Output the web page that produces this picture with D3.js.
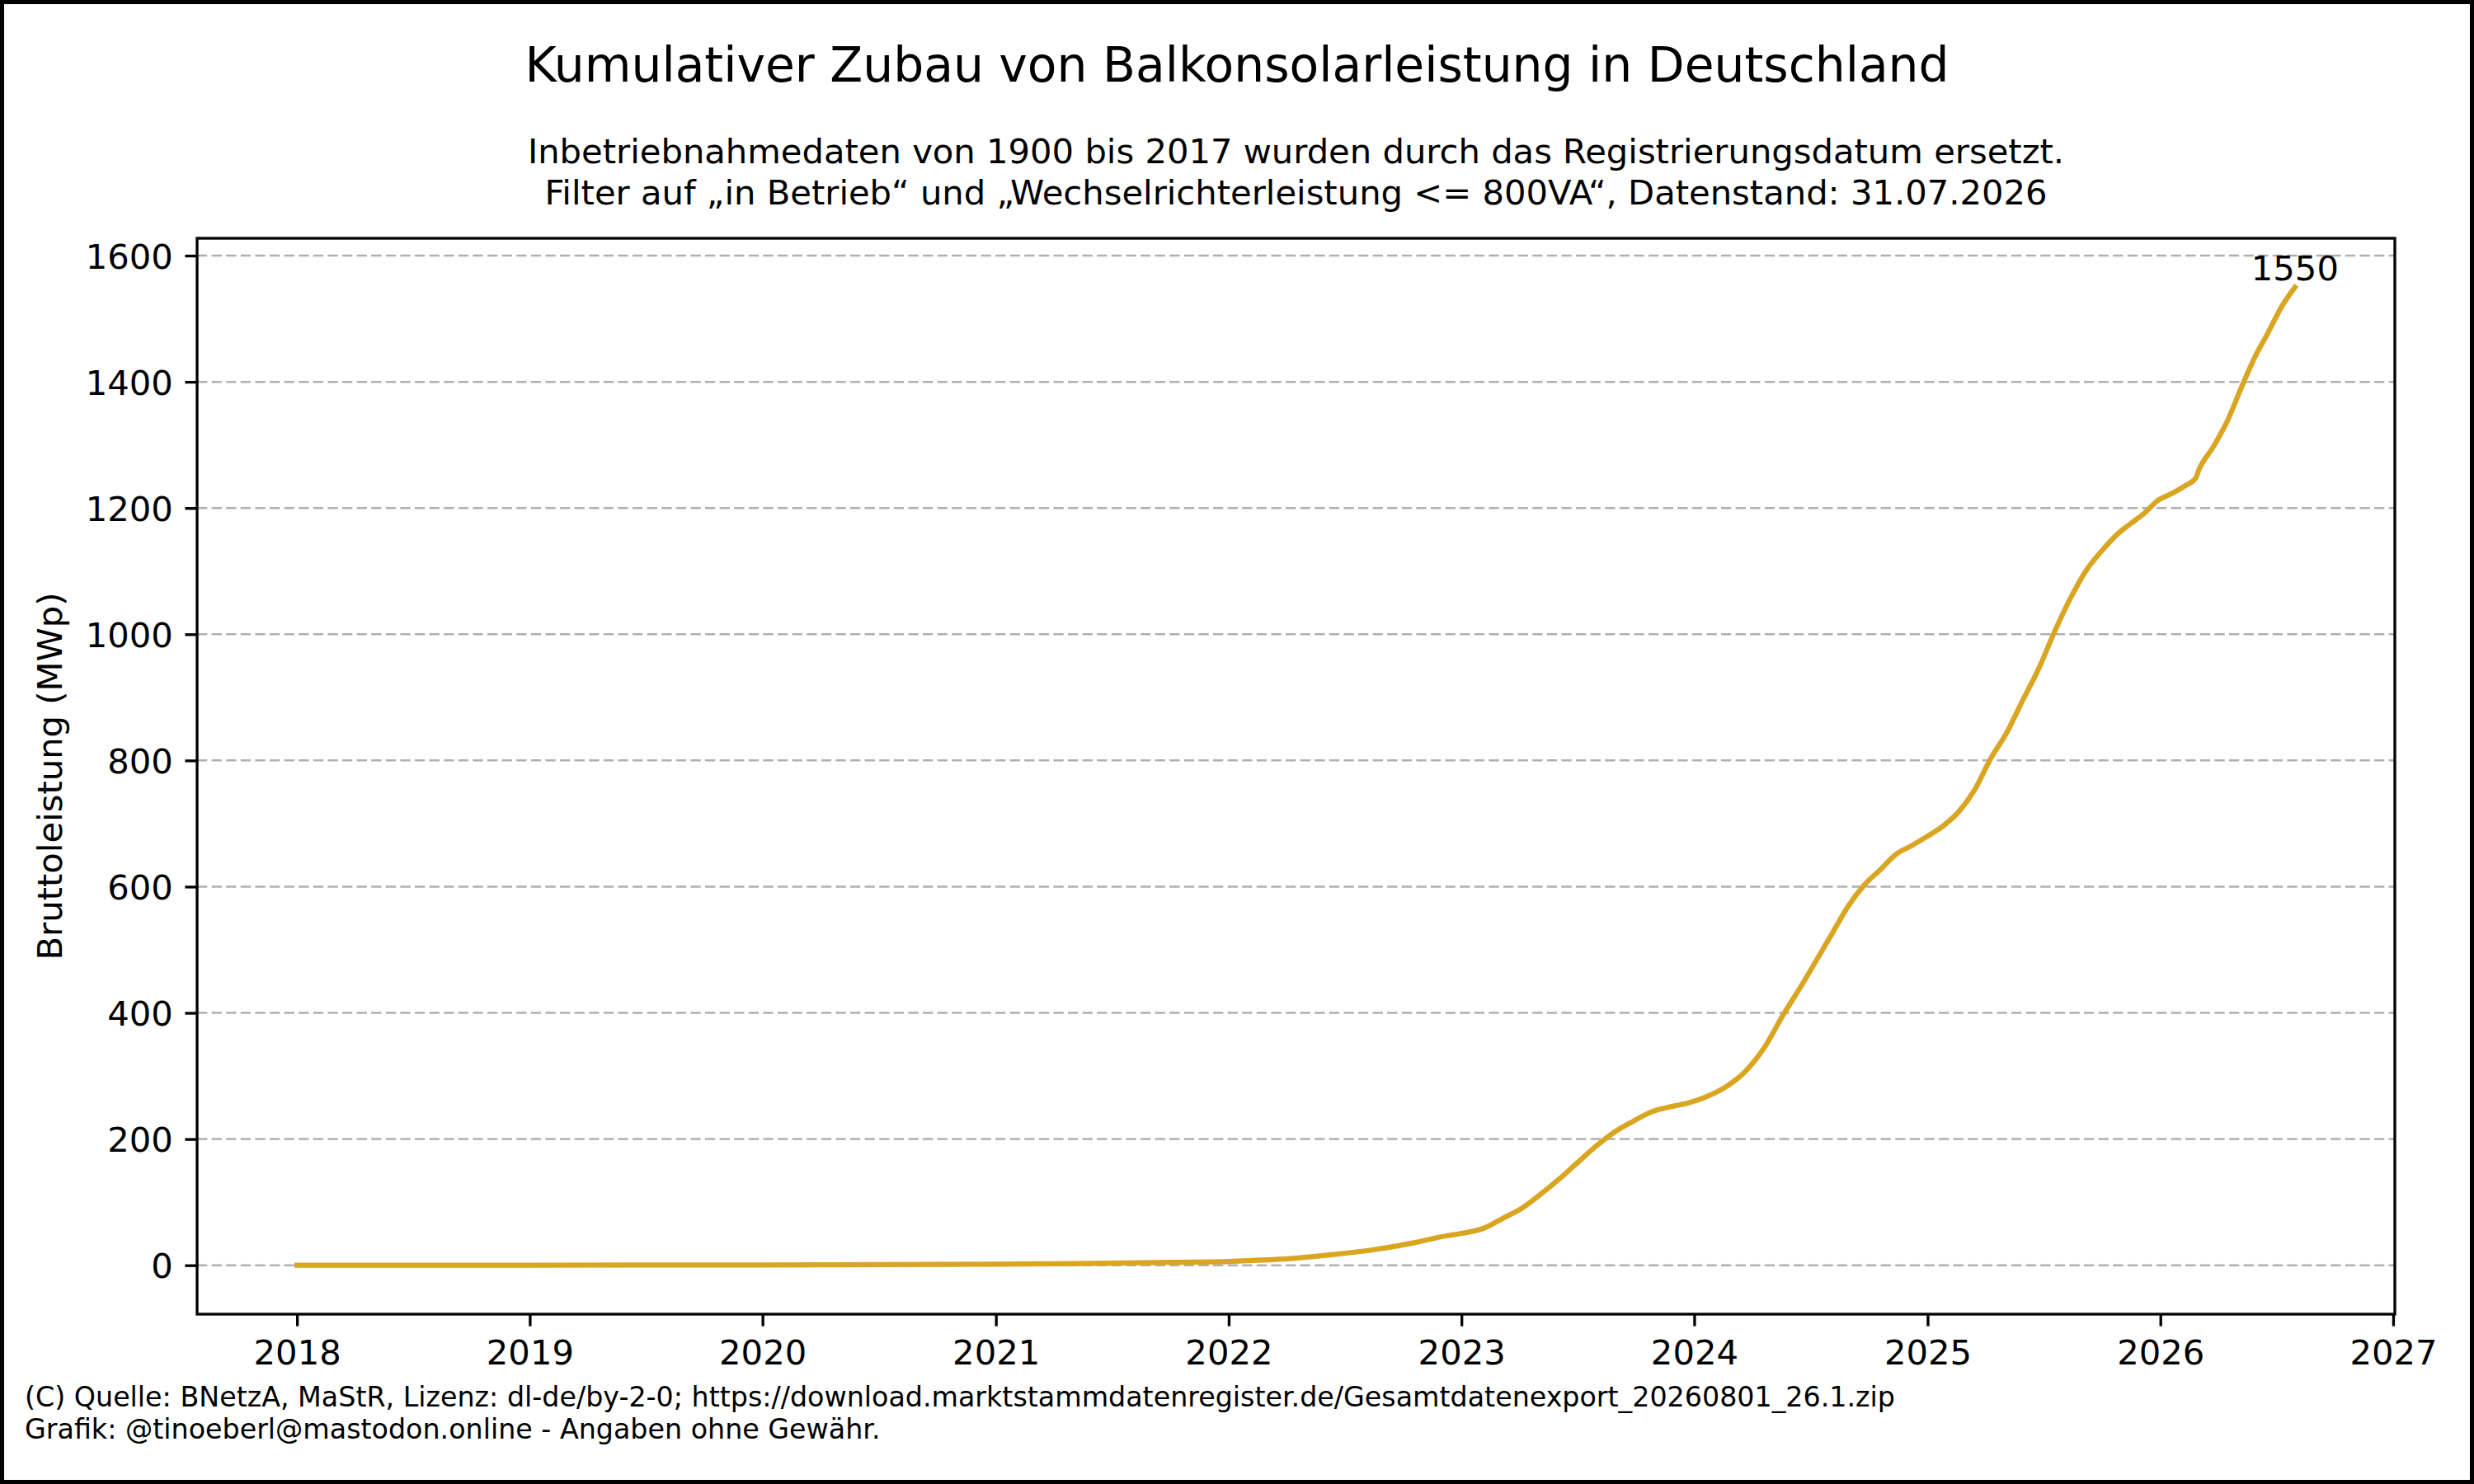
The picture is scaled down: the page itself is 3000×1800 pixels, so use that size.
<!DOCTYPE html>
<html>
<head>
<meta charset="utf-8">
<script src="https://cdn.jsdelivr.net/npm/d3@7"></script>
<style>
  body { margin: 0; background: #fff; }
  text { font-family: "DejaVu Sans", sans-serif; fill: #000; }
</style>
</head>
<body>
<script>
var width = 3000;
var height = 1800;
var margin = {left: 239, right: 96, top: 289, bottom: 206};

var titleText = "Kumulativer Zubau von Balkonsolarleistung in Deutschland";
var subtitleLines = [
    "Inbetriebnahmedaten von 1900 bis 2017 wurden durch das Registrierungsdatum ersetzt.",
    "Filter auf \u201Ein Betrieb\u201C und \u201EWechselrichterleistung <= 800VA\u201C, Datenstand: 31.07.2026"
];
var yLabelText = "Bruttoleistung (MWp)";
var footerLines = [
    "(C) Quelle: BNetzA, MaStR, Lizenz: dl-de/by-2-0; https://download.marktstammdatenregister.de/Gesamtdatenexport_20260801_26.1.zip",
    "Grafik: @tinoeberl@mastodon.online - Angaben ohne Gew\u00E4hr."
];

// cumulative capacity
var dates = [
    "2018-01-01", "2018-07-01", "2019-01-01", "2019-07-01", "2020-01-01", "2020-07-01",
    "2021-01-01", "2021-04-01", "2021-07-01", "2021-10-01", "2022-01-01", "2022-02-15",
    "2022-04-15", "2022-06-15", "2022-08-15", "2022-10-12", "2022-12-10", "2023-01-01",
    "2023-02-06", "2023-03-07", "2023-04-05", "2023-05-04", "2023-06-02", "2023-07-01",
    "2023-07-30", "2023-08-28", "2023-09-27", "2023-10-26", "2023-11-24", "2023-12-24",
    "2024-01-22", "2024-02-21", "2024-03-20", "2024-04-20", "2024-05-19", "2024-06-17",
    "2024-07-11", "2024-08-05", "2024-08-30", "2024-09-24", "2024-10-19", "2024-11-12",
    "2024-12-07", "2025-01-01", "2025-01-25", "2025-02-19", "2025-03-16", "2025-04-10",
    "2025-05-05", "2025-05-30", "2025-06-24", "2025-07-19", "2025-08-12", "2025-09-06",
    "2025-10-01", "2025-10-25", "2025-11-15", "2025-12-07", "2025-12-28", "2026-01-19",
    "2026-02-10", "2026-02-25", "2026-03-03", "2026-03-25", "2026-04-16", "2026-05-08",
    "2026-05-29", "2026-06-19", "2026-07-10", "2026-07-31"
];
var values = [
    0, 0.05, 0.15, 0.3, 0.5, 0.9,
    1.6, 2.3, 3.2, 4.5, 6, 7.8,
    11.3, 17, 24.4, 34.4, 47, 50.5,
    59, 74.5, 90, 111.5, 135.5, 161.7,
    187.8, 210.5, 228, 243, 251, 257.5,
    268, 283.7, 306, 345, 396, 443,
    484, 527, 570, 603, 627, 651,
    665, 680, 696, 719, 754, 803,
    844, 895, 945, 1004, 1055, 1100,
    1132, 1158, 1175, 1192, 1212, 1223,
    1236, 1247, 1262, 1297, 1338, 1391,
    1439, 1478, 1519, 1550
];
var yTicks = [0, 200, 400, 600, 800, 1000, 1200, 1400, 1600];
var xTickYears = [2018, 2019, 2020, 2021, 2022, 2023, 2024, 2025, 2026, 2027];

var parseDate = d3.timeParse("%Y-%m-%d");
var data = dates.map(function(d, i) {
    return {date: parseDate(d), value: values[i]};
});

var svg = d3.select("body")
    .append("svg")
    .attr("width", width)
    .attr("height", height);

svg.append("rect")
    .attr("x", 0).attr("y", 0)
    .attr("width", width).attr("height", height)
    .attr("fill", "#ffffff");

svg.append("rect")
    .attr("x", 2.5).attr("y", 2.5)
    .attr("width", width - 5).attr("height", height - 5)
    .attr("fill", "none")
    .attr("stroke", "#000")
    .attr("stroke-width", 5);

// matplotlib style 5% margins
var t0 = data[0].date.getTime();
var t1 = data[data.length - 1].date.getTime();
var tPad = (t1 - t0) * 0.05;
var vMax = d3.max(values);
var vMin = d3.min(values);
var vPad = (vMax - vMin) * 0.05;

var xScale = d3.scaleTime()
    .domain([new Date(t0 - tPad), new Date(t1 + tPad)])
    .range([margin.left, width - margin.right]);
var yScale = d3.scaleLinear()
    .domain([vMin - vPad, vMax + vPad])
    .range([height - margin.bottom, margin.top]);

// grid
svg.append("g")
    .selectAll("line")
    .data(yTicks)
    .enter().append("line")
    .attr("x1", margin.left)
    .attr("x2", width - margin.right)
    .attr("y1", function(d) { return yScale(d); })
    .attr("y2", function(d) { return yScale(d); })
    .attr("stroke", "#b0b0b0")
    .attr("stroke-width", 2.5)
    .attr("stroke-dasharray", "12.3,5.3");

var line = d3.line()
    .x(function(d) { return xScale(d.date); })
    .y(function(d) { return yScale(d.value); })
    .curve(d3.curveMonotoneX);

svg.append("path")
    .datum(data)
    .attr("fill", "none")
    .attr("stroke", "#DAA520")
    .attr("stroke-width", 6.25)
    .attr("stroke-linejoin", "round")
    .attr("stroke-linecap", "square")
    .attr("d", line);

var last = data[data.length - 1];
svg.append("text")
    .attr("x", xScale(last.date))
    .attr("y", yScale(last.value) - 8)
    .attr("text-anchor", "middle")
    .style("font-size", "41.7px")
    .text(Math.round(last.value));

// axes
var xAxis = d3.axisBottom(xScale)
    .tickValues(xTickYears.map(function(y) { return new Date(y, 0, 1); }))
    .tickFormat(d3.timeFormat("%Y"))
    .tickSizeInner(14.6)
    .tickSizeOuter(0)
    .tickPadding(14.6);
var yAxis = d3.axisLeft(yScale)
    .tickValues(yTicks)
    .tickFormat(d3.format("d"))
    .tickSizeInner(14.6)
    .tickSizeOuter(0)
    .tickPadding(14.6);

var gx = svg.append("g")
    .attr("transform", "translate(0," + (height - margin.bottom) + ")")
    .call(xAxis);
var gy = svg.append("g")
    .attr("transform", "translate(" + margin.left + ",0)")
    .call(yAxis);

[gx, gy].forEach(function(g) {
    g.select(".domain").remove();
    g.selectAll(".tick line").attr("stroke", "#000").attr("stroke-width", 3.33);
    g.selectAll(".tick text")
        .style("font-family", "DejaVu Sans, sans-serif")
        .style("font-size", "41.7px")
        .attr("fill", "#000");
});
gx.selectAll(".tick text").attr("dy", "0.76em");
gy.selectAll(".tick text").attr("dy", "0.36em");

// frame
svg.append("rect")
    .attr("x", margin.left)
    .attr("y", margin.top)
    .attr("width", width - margin.left - margin.right)
    .attr("height", height - margin.top - margin.bottom)
    .attr("fill", "none")
    .attr("stroke", "#000")
    .attr("stroke-width", 3.33);

// titles
svg.append("text")
    .attr("x", width / 2)
    .attr("y", 99)
    .attr("text-anchor", "middle")
    .style("font-size", "58.3px")
    .text(titleText);

var axesCenter = (margin.left + width - margin.right) / 2;
svg.selectAll(".subtitle")
    .data(subtitleLines)
    .enter().append("text")
    .attr("class", "subtitle")
    .attr("x", axesCenter)
    .attr("y", function(d, i) { return 198 + i * 50; })
    .attr("text-anchor", "middle")
    .style("font-size", "41.7px")
    .text(function(d) { return d; });

svg.append("text")
    .attr("transform", "translate(75," + ((margin.top + height - margin.bottom) / 2) + ") rotate(-90)")
    .attr("text-anchor", "middle")
    .style("font-size", "41.7px")
    .text(yLabelText);

svg.selectAll(".footer")
    .data(footerLines)
    .enter().append("text")
    .attr("class", "footer")
    .attr("x", 30)
    .attr("y", function(d, i) { return 1706 + i * 39; })
    .style("font-size", "33.3px")
    .text(function(d) { return d; });
</script>
</body>
</html>
